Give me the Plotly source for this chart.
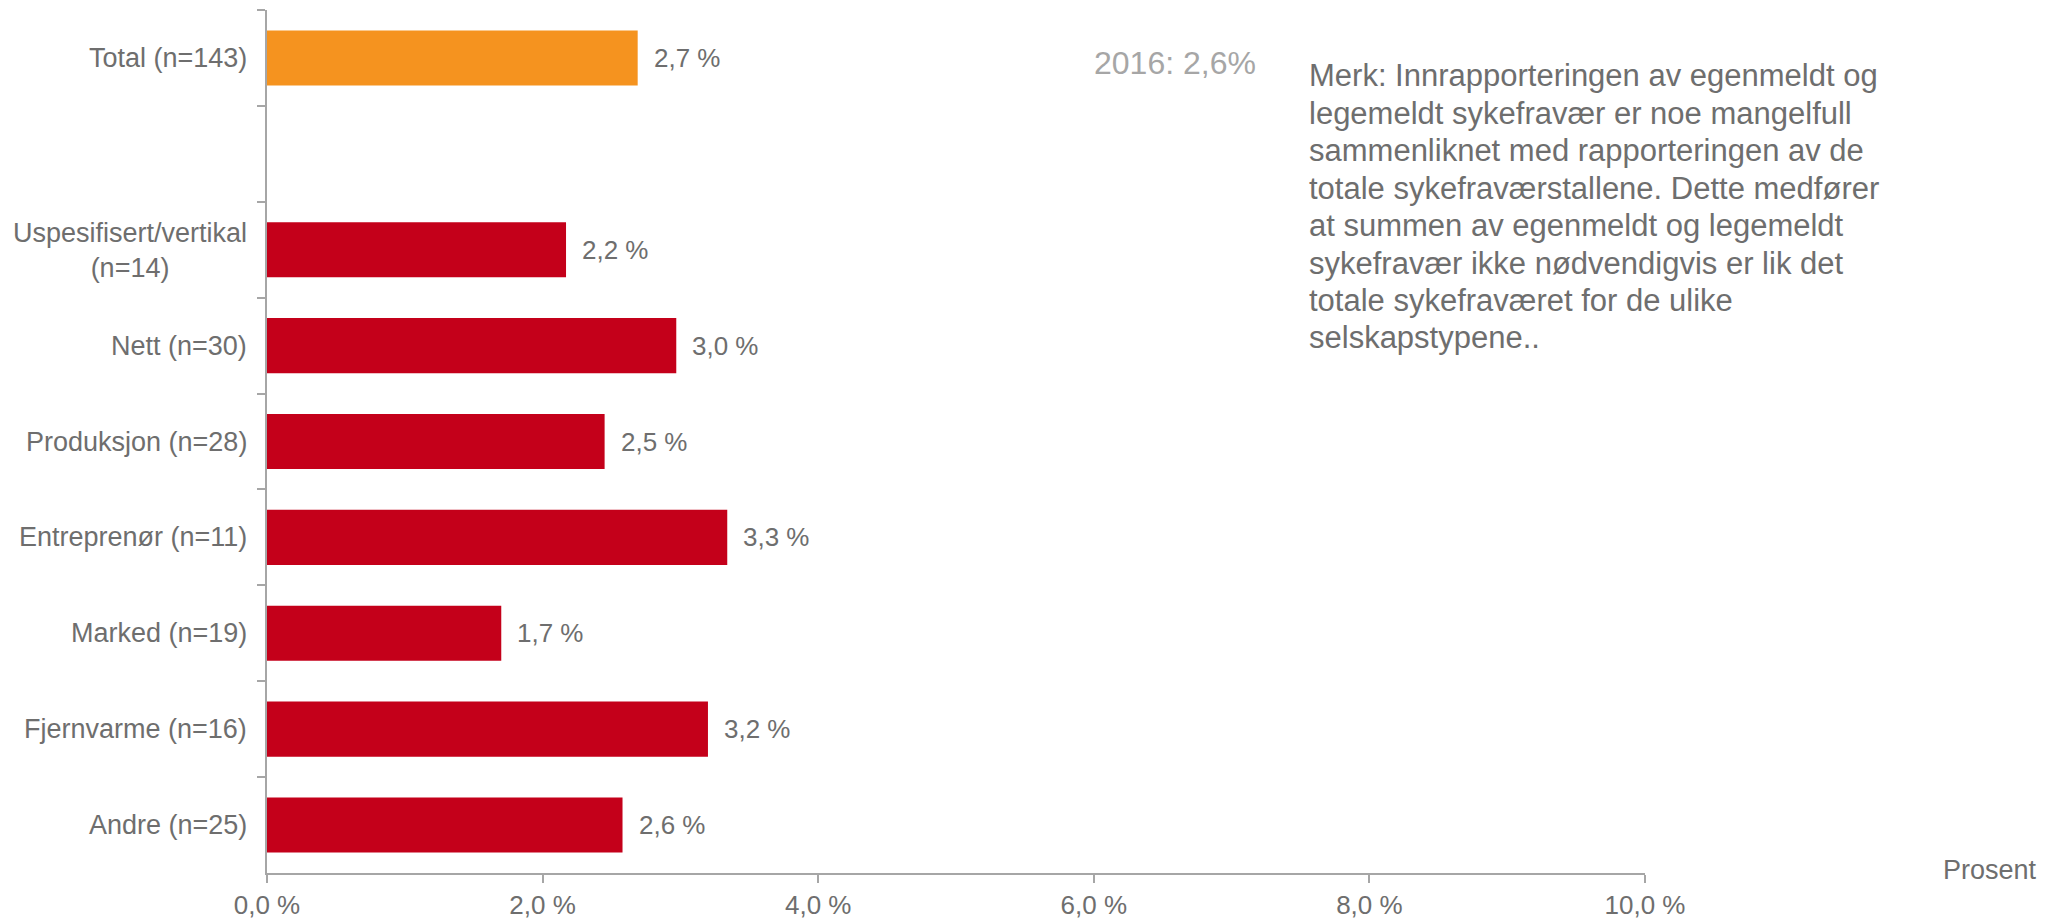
import plotly.graph_objects as go

categories = [
    "Total (n=143)",
    " ",
    "Uspesifisert/vertikal<br>(n=14)",
    "Nett (n=30)",
    "Produksjon (n=28)",
    "Entreprenør (n=11)",
    "Marked (n=19)",
    "Fjernvarme (n=16)",
    "Andre (n=25)",
]
values = [2.69, None, 2.17, 2.97, 2.45, 3.34, 1.70, 3.20, 2.58]
bar_colors = ["#F5931F", "#C4001A", "#C4001A", "#C4001A", "#C4001A",
              "#C4001A", "#C4001A", "#C4001A", "#C4001A"]
x_ticks = [0, 2, 4, 6, 8, 10]

prev_year_text = "2016: 2,6%"
axis_title = "Prosent"
note_lines = [
    "Merk: Innrapporteringen av egenmeldt og",
    "legemeldt sykefravær er noe mangelfull",
    "sammenliknet med rapporteringen av de",
    "totale sykefraværstallene. Dette medfører",
    "at summen av egenmeldt og legemeldt",
    "sykefravær ikke nødvendigvis er lik det",
    "totale sykefraværet for de ulike",
    "selskapstypene..",
]

FONT = "Arial, Liberation Sans, sans-serif"
TEXT = "#6E6E6E"
AXIS = "#A6A6A6"
PLOT_H = 863  # plot area height in px, used to place the note lines


def pct(v):
    return f"{v:.1f}".replace(".", ",") + " %"


fig = go.Figure(
    go.Bar(
        x=values,
        y=categories,
        orientation="h",
        marker=dict(color=bar_colors, line=dict(width=0)),
        width=0.575,
        hoverinfo="skip",
    )
)

annotations = []
for cat, v in zip(categories, values):
    if cat.strip():
        annotations.append(dict(
            x=0, y=cat, xref="x", yref="y", text=cat, showarrow=False,
            xanchor="right", yanchor="middle", xshift=-18, align="center",
            yshift=-1 if "<br>" in cat else 0,
            font=dict(size=27, color=TEXT, family=FONT),
        ))
    if v is not None:
        annotations.append(dict(
            x=v, y=cat, xref="x", yref="y", text=pct(v), showarrow=False,
            xanchor="left", yanchor="middle", xshift=14,
            font=dict(size=26, color=TEXT, family=FONT),
        ))

annotations.append(dict(
    x=0.5987, y=0.939, xref="paper", yref="paper", text=prev_year_text,
    showarrow=False, xanchor="left", yanchor="middle",
    font=dict(size=32, color="#A6A6A6", family=FONT),
))
for i, line in enumerate(note_lines):
    annotations.append(dict(
        x=0.7544, y=(863 - 66 - 37.4 * i) / PLOT_H, xref="paper", yref="paper",
        text=line, showarrow=False, xanchor="left", yanchor="middle",
        font=dict(size=31, color=TEXT, family=FONT),
    ))
annotations.append(dict(
    x=1.2856, y=0.003, xref="paper", yref="paper", text=axis_title,
    showarrow=False, xanchor="right", yanchor="middle",
    font=dict(size=27, color=TEXT, family=FONT),
))

fig.update_layout(
    width=2049,
    height=920,
    margin=dict(l=267, r=404, t=10, b=47, autoexpand=False),
    paper_bgcolor="white",
    plot_bgcolor="white",
    showlegend=False,
    annotations=annotations,
    font=dict(family=FONT, color=TEXT),
)
fig.update_xaxes(
    range=[0, 10],
    tickmode="array",
    tickvals=x_ticks,
    ticktext=[pct(t) for t in x_ticks],
    automargin=False,
    showgrid=False,
    zeroline=False,
    showline=True,
    linecolor=AXIS,
    linewidth=1.5,
    ticks="outside",
    ticklen=8,
    tickcolor=AXIS,
    tickwidth=1.5,
    ticklabelstandoff=0,
    tickfont=dict(size=26, color=TEXT, family=FONT),
)
fig.update_yaxes(
    type="category",
    categoryorder="array",
    categoryarray=categories,
    autorange="reversed",
    automargin=False,
    showticklabels=False,
    tickson="boundaries",
    ticks="outside",
    ticklen=8,
    tickcolor=AXIS,
    tickwidth=1.5,
    showgrid=False,
    zeroline=False,
    showline=True,
    linecolor=AXIS,
    linewidth=1.5,
)

fig.write_html(
    "out.html",
    config={"displayModeBar": False},
    post_script="document.body.style.margin='0';",
)
